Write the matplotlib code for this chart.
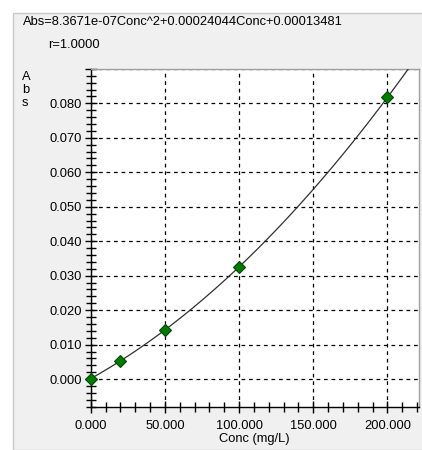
"""
plot.py
Calibration curve (Abs vs Conc) redrawn in the style of an instrument report panel.
"""

import matplotlib
matplotlib.use("Agg")
import matplotlib.pyplot as plt
import numpy as np
from matplotlib.patches import Rectangle
from matplotlib.ticker import MultipleLocator, FormatStrFormatter, FuncFormatter

# standards
conc = [0.0, 20.0, 50.0, 100.0, 200.0]
absorb = [0.0001, 0.0053, 0.0142, 0.0325, 0.0817]

# quadratic fit coefficients as printed in the header
fit_coef = [8.3671e-07, 0.00024044, 0.00013481]
equation = "Abs=8.3671e-07Conc^2+0.00024044Conc+0.00013481"
r_text = "r=1.0000"

W, H = 422, 450
plt.rcParams['font.family'] = ['Liberation Sans', 'DejaVu Sans']
plt.rcParams['font.size'] = 9.3

fig = plt.figure(figsize=(W / 100, H / 100), dpi=100)
fig.patch.set_facecolor('white')

# grey report panel with its border
panel = Rectangle((13 / W, 0), 1, 1 - 13 / H, transform=fig.transFigure,
                  facecolor='#f0f0f0', edgecolor='#c8c8c8', linewidth=1, zorder=-10)
fig.patches.append(panel)

ax = fig.add_axes([90.7 / W, 1 - 406.7 / H, (418.5 - 90.7) / W, (406.7 - 68.5) / H])
ax.set_facecolor('white')

# fitted curve over the whole x range
xs = np.linspace(0, 221, 400)
ax.plot(xs, np.polyval(fit_coef, xs), color='#303030', linewidth=0.9, zorder=3)
ax.plot(conc, absorb, linestyle='none', marker='D', markersize=6.5,
        markerfacecolor='#007a00', markeredgecolor='#004a00', markeredgewidth=0.8,
        zorder=4, clip_on=False)

ax.set_xlim(0, 221)
ax.set_ylim(-0.0080, 0.0901)

ax.xaxis.set_major_locator(MultipleLocator(50))
ax.xaxis.set_minor_locator(MultipleLocator(10))
ax.yaxis.set_major_locator(MultipleLocator(0.01))
ax.yaxis.set_minor_locator(MultipleLocator(0.002))
ax.xaxis.set_major_formatter(FormatStrFormatter('%.3f'))
# the instrument leaves the top tick unlabelled
ax.yaxis.set_major_formatter(FuncFormatter(lambda v, p: '' if v > 0.085 else f'{v:.3f}'))

ax.grid(True, which='major', color='black', linestyle=(0, (3, 3)), linewidth=0.9)

for side in ('left', 'bottom'):
    ax.spines[side].set_color('black')
    ax.spines[side].set_linewidth(1)
for side in ('top', 'right'):
    ax.spines[side].set_color('#a0a0a0')
    ax.spines[side].set_linewidth(1)

ax.tick_params(which='major', direction='inout', length=9, width=1, color='black', pad=2)
ax.tick_params(which='minor', direction='inout', length=7, width=1, color='black')
ax.tick_params(axis='x', pad=5)

ax.set_xlabel("Conc (mg/L)", labelpad=1)

fig.text(23 / W, 1 - 22 / H, equation, ha='left', va='center')
fig.text(48 / W, 1 - 45 / H, r_text, ha='left', va='center')
fig.text(22 / W, 1 - 90 / H, "A\nb\ns", ha='left', va='center', linespacing=1.1)

plt.savefig('out.png', dpi=100)
